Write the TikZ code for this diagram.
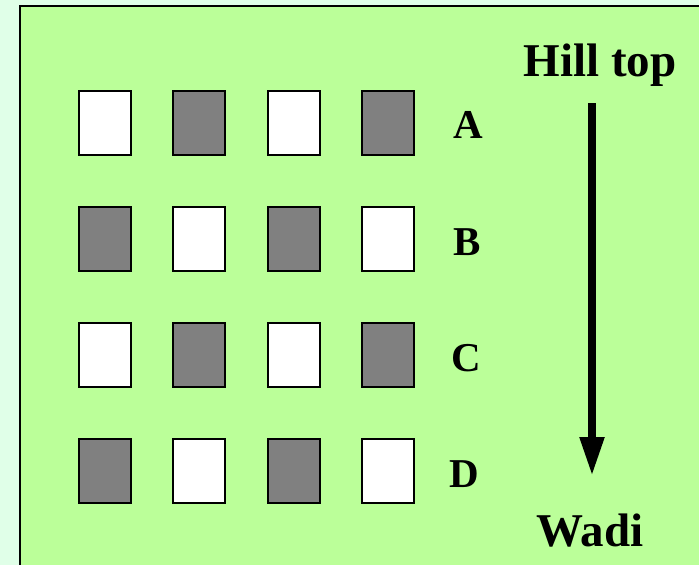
\documentclass[tikz,border=0pt]{standalone}
\usepackage{fontspec}
\setmainfont{Liberation Serif}
\usetikzlibrary{arrows.meta}
\definecolor{mintbg}{RGB}{224,255,232}
\definecolor{fieldgreen}{RGB}{187,255,153}
\definecolor{plotgray}{RGB}{128,128,128}

\begin{document}
\begin{tikzpicture}[
    x=1pt, y=-1pt,
    plot/.style={draw=black, line width=2pt, minimum width=52pt, minimum height=64pt, inner sep=0pt},
    wplot/.style={plot, fill=white},
    gplot/.style={plot, fill=plotgray},
    rowlabel/.style={font=\bfseries\fontsize{41}{41}\selectfont, inner sep=0pt},
    endlabel/.style={font=\bfseries\fontsize{47}{47}\selectfont, inner sep=0pt, anchor=base},
    slope/.style={line width=8pt, -{Triangle[length=39pt,width=23pt]}}
]
\useasboundingbox (0,0) rectangle (699,565);
\clip (0,0) rectangle (699,565);
\fill[mintbg] (0,0) rectangle (699,565);
\draw[fill=fieldgreen, line width=2.5pt] (20,6) rectangle (710,575);

% row A
\node[wplot] (a1) at (105,123) {};
\node[gplot] (a2) at (199,123) {};
\node[wplot] (a3) at (293.5,123) {};
\node[gplot] (a4) at (388,123) {};
% row B
\node[gplot] (b1) at (105,239) {};
\node[wplot] (b2) at (199,239) {};
\node[gplot] (b3) at (293.5,239) {};
\node[wplot] (b4) at (388,239) {};
% row C
\node[wplot] (c1) at (105,355) {};
\node[gplot] (c2) at (199,355) {};
\node[wplot] (c3) at (293.5,355) {};
\node[gplot] (c4) at (388,355) {};
% row D
\node[gplot] (d1) at (105,471) {};
\node[wplot] (d2) at (199,471) {};
\node[gplot] (d3) at (293.5,471) {};
\node[wplot] (d4) at (388,471) {};

\node[rowlabel] (la) at (468,125) {A};
\node[rowlabel] (lb) at (467,242) {B};
\node[rowlabel] (lc) at (466,358) {C};
\node[rowlabel] (ld) at (464,474) {D};

\node[endlabel] (hill) at (600,76) {Hill top};
\node[endlabel] (wadi) at (590,546) {Wadi};

\coordinate (slopetop) at (592,103);
\coordinate (slopeend) at (592,476);
\draw[slope] (slopetop) -- (slopeend);
\end{tikzpicture}
\end{document}
